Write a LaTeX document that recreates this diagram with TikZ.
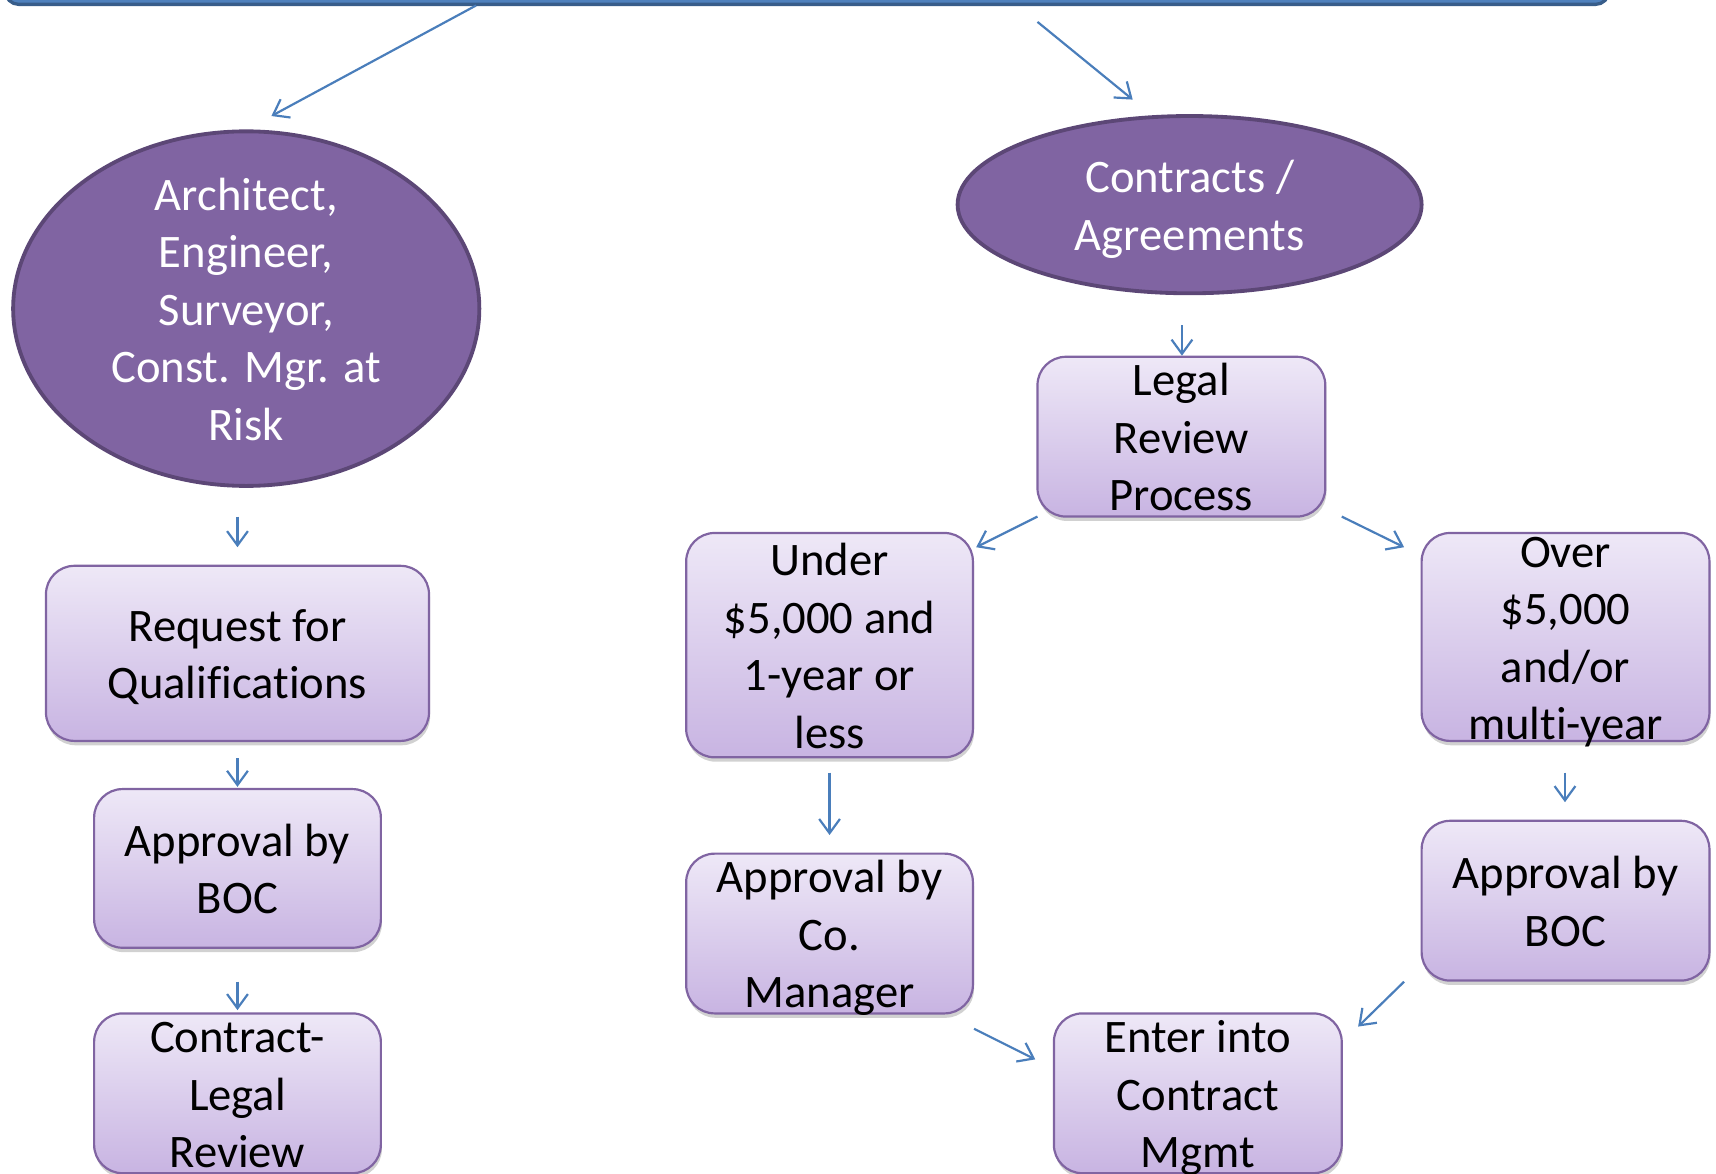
\documentclass[tikz,border=0pt]{standalone}
\usepackage{fontspec}
\setmainfont{Carlito}[Ligatures=NoCommon]
\usetikzlibrary{arrows.meta,shapes.geometric,shadows}
\definecolor{barfill}{HTML}{4F81BD}
\definecolor{barline}{HTML}{385D8A}
\definecolor{ellfill}{HTML}{8064A2}
\definecolor{ellline}{HTML}{5C4776}
\definecolor{boxtop}{HTML}{EEE8F7}
\definecolor{boxbot}{HTML}{C8B4E2}
\definecolor{boxline}{HTML}{8064A2}
\definecolor{arr}{HTML}{4A7EBB}
% centred lines of a label, taking no room of their own
\newcommand\tlines[1]{\raisebox{-11pt}[0pt][0pt]{\begin{tabular}{@{}c@{}}#1\end{tabular}}}
\begin{document}
\begin{tikzpicture}[x=1pt,y=-1pt,
  txt/.style={font=\fontsize{42.6}{52.5}\selectfont, inner sep=0pt},
  stepbox/.style={txt, rectangle, rounded corners=26pt, draw=boxline, line width=2pt,
    top color=boxtop, bottom color=boxbot,
    drop shadow={shadow xshift=1pt,shadow yshift=-4pt,opacity=0.3,fill=black!60}},
  ell/.style={txt, ellipse, draw=ellline, line width=3.5pt, fill=ellfill, text=white},
  barbox/.style={rectangle, rounded corners=12pt, draw=barline, line width=3pt, fill=barfill},
  conn/.style={draw=arr, line width=2pt, -{Straight Barb[length=13pt,width=19pt]}}]
\useasboundingbox (0,0) rectangle (1568,1072);

% top bar
\node[barbox, minimum width=1465, minimum height=70] (bar) at (737.5,-31) {};

% ellipses
\node[ell, minimum width=426, minimum height=324] (arch) at (225,282)
  {\tlines{Architect,\\Engineer,\\Surveyor,\\Const. Mgr. at\\Risk}};
\node[ell, minimum width=424, minimum height=162] (contr) at (1087,187)
  {\tlines{Contracts /\\Agreements}};

% boxes
\node[stepbox, minimum width=350, minimum height=160] (rfq) at (217,597) {\tlines{Request for\\Qualifications}};
\node[stepbox, minimum width=262, minimum height=145] (boc1) at (217,793.5) {\tlines{Approval by\\BOC}};
\node[stepbox, minimum width=262, minimum height=146] (clr) at (217,999) {\tlines{Contract-\\Legal\\Review}};
\node[stepbox, minimum width=263, minimum height=146] (lrp) at (1079.5,399) {\tlines{Legal\\Review\\Process}};
\node[stepbox, minimum width=262, minimum height=205] (under) at (758,589.5) {\tlines{Under\\\$5,000 and\\1-year or\\less}};
\node[stepbox, minimum width=263, minimum height=190] (over) at (1430.5,582) {\tlines{Over\\\$5,000\\and/or\\multi-year}};
\node[stepbox, minimum width=262, minimum height=146] (com) at (758,853) {\tlines{Approval by\\Co.\\Manager}};
\node[stepbox, minimum width=263, minimum height=146] (boc2) at (1430.5,823) {\tlines{Approval by\\BOC}};
\node[stepbox, minimum width=263, minimum height=146] (enter) at (1094.5,999) {\tlines{Enter into\\Contract\\Mgmt}};

% connector end points
\coordinate (a1s) at (435,5);    \coordinate (a1e) at (248,106);
\coordinate (a2s) at (948,20);   \coordinate (a2e) at (1035,91);
\coordinate (d1s) at (217,472);  \coordinate (d1e) at (217,500);
\coordinate (d2s) at (1080,297); \coordinate (d2e) at (1080,325);
\coordinate (d3s) at (217,693);  \coordinate (d3e) at (217,719);
\coordinate (d4s) at (217,897);  \coordinate (d4e) at (217,923);
\coordinate (d5s) at (758,706);  \coordinate (d5e) at (758,763);
\coordinate (d6s) at (1430,706); \coordinate (d6e) at (1430,733);
\coordinate (g1s) at (948,472);  \coordinate (g1e) at (892,500);
\coordinate (g2s) at (1226,472); \coordinate (g2e) at (1283,500);
\coordinate (g3s) at (1283,897); \coordinate (g3e) at (1241,938);
\coordinate (g4s) at (890,940);  \coordinate (g4e) at (946,968);

\foreach \c in {a1,a2,d1,d2,d3,d4,d5,d6,g1,g2,g3,g4}
  \draw[conn] (\c s) -- (\c e);
\end{tikzpicture}
\end{document}
